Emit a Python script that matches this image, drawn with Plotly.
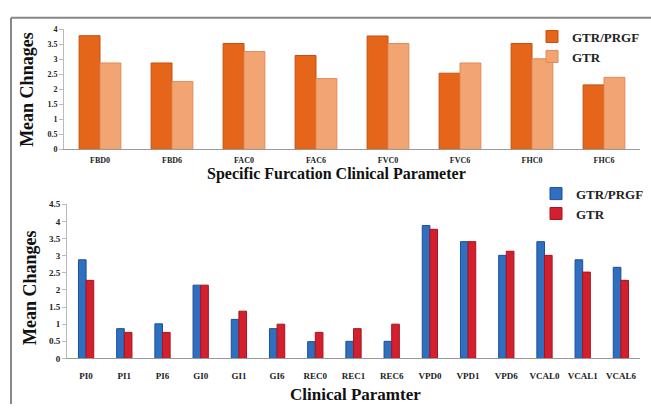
import plotly.graph_objects as go

# Top chart data
top_categories = ["FBD0", "FBD6", "FAC0", "FAC6", "FVC0", "FVC6", "FHC0", "FHC6"]
top_gtr_prgf = [3.79, 2.88, 3.53, 3.13, 3.78, 2.54, 3.53, 2.15]
top_gtr = [2.88, 2.26, 3.26, 2.36, 3.53, 2.88, 3.02, 2.40]
top_ticks = [0, 0.5, 1, 1.5, 2, 2.5, 3, 3.5, 4]

# Bottom chart data
bot_categories = ["PI0", "PI1", "PI6", "GI0", "GI1", "GI6", "REC0", "REC1", "REC6",
                  "VPD0", "VPD1", "VPD6", "VCAL0", "VCAL1", "VCAL6"]
bot_gtr_prgf = [2.88, 0.87, 1.01, 2.14, 1.14, 0.87, 0.49, 0.50, 0.50,
                3.88, 3.41, 3.01, 3.41, 2.88, 2.66]
bot_gtr = [2.28, 0.76, 0.76, 2.14, 1.38, 1.00, 0.76, 0.87, 1.00,
           3.77, 3.41, 3.13, 3.01, 2.52, 2.28]
bot_ticks = [0, 0.5, 1, 1.5, 2, 2.5, 3, 3.5, 4, 4.5]

W, H = 651, 409
FONT = "Liberation Serif"

fig = go.Figure()
fig.add_trace(go.Bar(x=top_categories, y=top_gtr_prgf, name="GTR/PRGF",
                     marker=dict(color="#E5661A", line=dict(color="#C4500E", width=1)),
                     xaxis="x", yaxis="y", legend="legend",
                     width=0.29, offset=-0.29))
fig.add_trace(go.Bar(x=top_categories, y=top_gtr, name="GTR",
                     marker=dict(color="#F2A472", line=dict(color="#E08A55", width=1)),
                     xaxis="x", yaxis="y", legend="legend",
                     width=0.29, offset=0.0))
fig.add_trace(go.Bar(x=bot_categories, y=bot_gtr_prgf, name="GTR/PRGF",
                     marker=dict(color="#2E6FC0", line=dict(color="#1F4F95", width=1)),
                     xaxis="x2", yaxis="y2", legend="legend2",
                     width=0.2, offset=-0.2))
fig.add_trace(go.Bar(x=bot_categories, y=bot_gtr, name="GTR",
                     marker=dict(color="#D3202E", line=dict(color="#A8141F", width=1)),
                     xaxis="x2", yaxis="y2", legend="legend2",
                     width=0.2, offset=0.0))

tickfont = dict(family=FONT, size=8, color="#222", weight="bold")
tickfont2 = dict(family=FONT, size=9, color="#222", weight="bold")


def px_x(p):
    return p / W


def px_y(p):
    return 1 - p / H


legend_font = dict(family=FONT, size=13, color="#222", weight="bold")

fig.update_layout(
    width=W, height=H,
    margin=dict(l=0, r=0, t=0, b=0),
    paper_bgcolor="white", plot_bgcolor="white",
    barmode="overlay",
    showlegend=True,
    xaxis=dict(domain=[px_x(64), px_x(640)], anchor="y", showline=True,
               linecolor="#999", linewidth=1, tickfont=tickfont,
               ticks="outside", ticklen=3, tickcolor="rgba(0,0,0,0)",
               showgrid=False),
    yaxis=dict(domain=[px_y(148), px_y(25)], anchor="x", range=[0, 4],
               tickvals=top_ticks, ticktext=[str(t) for t in top_ticks],
               showline=True, linecolor="#bbb", linewidth=1, ticks="outside",
               ticklen=4, tickcolor="#bbb", tickfont=tickfont, showgrid=False,
               zeroline=False),
    xaxis2=dict(domain=[px_x(67), px_x(640)], anchor="y2", showline=True,
                linecolor="#999", linewidth=1, tickfont=tickfont2,
                ticks="outside", ticklen=9, tickcolor="rgba(0,0,0,0)",
                showgrid=False),
    yaxis2=dict(domain=[px_y(362.3), px_y(204.3)], anchor="x2", range=[0, 4.5],
                tickvals=bot_ticks, ticktext=[str(t) for t in bot_ticks],
                showline=True, linecolor="#bbb", linewidth=1, ticks="outside",
                ticklen=4, tickcolor="#bbb", tickfont=tickfont2,
                showgrid=False, zeroline=False),
    legend=dict(x=px_x(532), y=px_y(17), xanchor="left", yanchor="top",
                font=legend_font, bgcolor="rgba(0,0,0,0)", itemwidth=30,
                tracegroupgap=0),
    legend2=dict(x=px_x(536), y=px_y(178), xanchor="left", yanchor="top",
                 font=legend_font, bgcolor="rgba(0,0,0,0)", itemwidth=30,
                 tracegroupgap=0),
    annotations=[
        dict(text="Mean Chnages", x=px_x(27), y=px_y(87), xref="paper", yref="paper",
             xanchor="center", yanchor="middle", textangle=-90, showarrow=False,
             font=dict(family=FONT, size=18, color="#111", weight="bold")),
        dict(text="Specific Furcation Clinical Parameter", x=px_x(336), y=px_y(173),
             xref="paper", yref="paper", xanchor="center", yanchor="middle",
             showarrow=False,
             font=dict(family=FONT, size=16, color="#111", weight="bold")),
        dict(text="Mean Changes", x=px_x(30), y=px_y(290), xref="paper", yref="paper",
             xanchor="center", yanchor="middle", textangle=-90, showarrow=False,
             font=dict(family=FONT, size=18, color="#111", weight="bold")),
        dict(text="Clinical Paramter", x=px_x(355), y=px_y(399),
             xref="paper", yref="paper", xanchor="center", yanchor="middle",
             showarrow=False,
             font=dict(family=FONT, size=17, color="#111", weight="bold")),
    ],
    shapes=[
        dict(type="line", xref="paper", yref="paper", x0=px_x(11), x1=1,
             y0=px_y(13), y1=px_y(13), line=dict(color="#888", width=2)),
        dict(type="line", xref="paper", yref="paper", x0=px_x(11), x1=px_x(11),
             y0=px_y(13), y1=0, line=dict(color="#888", width=2)),
    ],
)

fig.write_html("out.html", config={"displayModeBar": False},
               post_script="document.body.style.margin='0px';document.body.style.overflow='hidden';")
